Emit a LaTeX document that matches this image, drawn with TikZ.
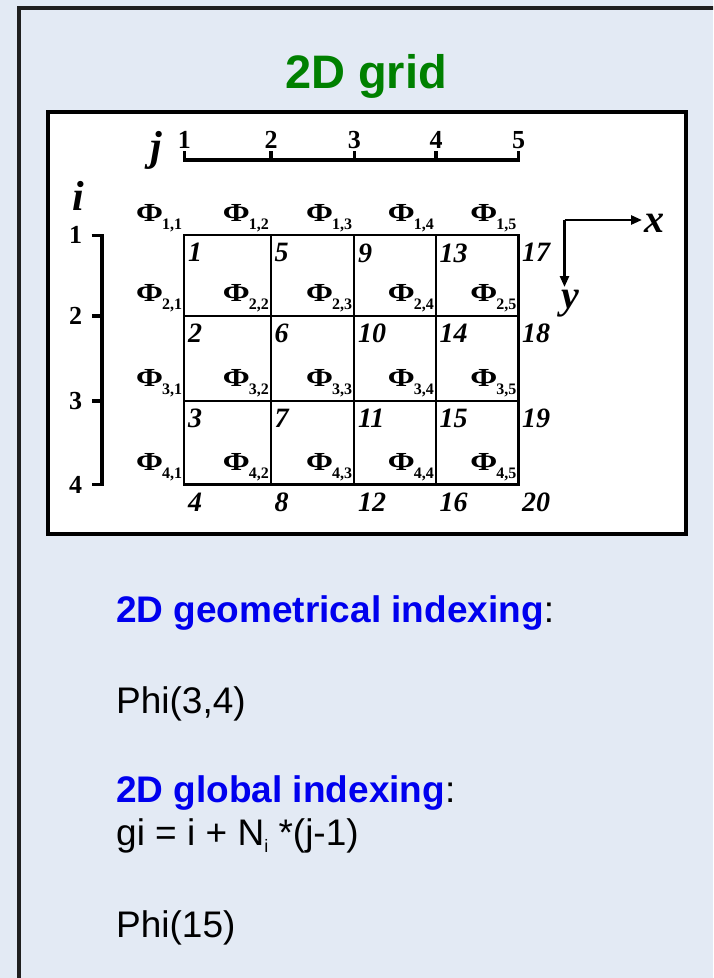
\documentclass[tikz,border=0pt]{standalone}
\usepackage{fontspec}
\usepackage{graphicx}
\setmainfont{Liberation Serif}
\newfontfamily\sansf{Liberation Sans}
\usetikzlibrary{arrows.meta}
\definecolor{bgcol}{RGB}{227,234,244}
\definecolor{ttlgreen}{RGB}{0,128,0}
\definecolor{hblue}{RGB}{0,0,238}
\newcommand\phisub[1]{{\bfseries\scalebox{1.25}[1]{Φ}}\kern-1pt\raisebox{-8pt}{\fontsize{16}{16}\selectfont\bfseries #1}}
\tikzset{
  gridln/.style={line width=2.2pt},
  axisln/.style={line width=3.5pt},
  numlbl/.style={font=\fontsize{28}{28}\selectfont\bfseries\itshape, inner sep=0pt},
  philbl/.style={font=\fontsize{26}{26}\selectfont, inner sep=0pt},
  ticklbl/.style={font=\fontsize{26}{26}\selectfont\bfseries, inner sep=0pt},
  axname/.style={font=\fontsize{42}{42}\selectfont\bfseries\itshape, inner sep=0pt},
  xyname/.style={font=\fontsize{40}{40}\selectfont\bfseries\itshape, inner sep=0pt},
  bodytxt/.style={font=\sansf\fontsize{37}{37}\selectfont, inner sep=0pt, anchor=base west},
  xyarrow/.style={line width=2.5pt, -{Triangle[length=11pt,width=9pt]}},
}
\begin{document}
\begin{tikzpicture}[x=1pt,y=-1pt]
\useasboundingbox (0,0) rectangle (713,978);
\clip (0,0) rectangle (713,978);
\fill[bgcol] (0,0) rectangle (713,978);
% outer frame (continues beyond the page)
\draw[line width=4pt, black!88] (19.3,1000) -- (19.3,8) -- (740,8);
% title
\node[font=\sansf\bfseries\fontsize{47}{47}\selectfont, text=ttlgreen, anchor=base, inner sep=0pt] (title) at (366,88) {2D grid};
% white picture box
\draw[line width=4pt, fill=white] (47.5,112) rectangle (685.5,533.5);
% grid points, cell numbers and Phi labels
\foreach \x [count=\j] in {184.3,271,354.3,436,518.5} {
  \foreach \y [count=\i] in {235.3,316,401,484.5} {
    \coordinate (p\i\j) at (\x,\y);
    \pgfmathtruncatemacro\n{(\j-1)*4+\i}
    \node[numlbl, anchor=north west] (n\n) at (\x+3.5,\y+8) {\n};
    \node[philbl, anchor=south east] (f\i\j) at (\x-2,\y-3.5) {\phisub{\i,\j}};
  }
}
\draw[gridln] (p11) rectangle (p45);
\foreach \j in {2,3,4} \draw[gridln] (p1\j) -- (p4\j);
\foreach \i in {2,3} \draw[gridln] (p\i1) -- (p\i5);
% j axis
\foreach \x [count=\j] in {184.3,271,354.3,436,518.5} {
  \coordinate (jt\j) at (\x,160);
  \coordinate (jh\j) at (\x,151);
  \node[ticklbl, anchor=base] (jl\j) at (\x,148) {\j};
}
\draw[axisln] (jh1) -- (jt1) -- (jt5) -- (jh5);
\foreach \j in {2,3,4} \draw[axisln] (jt\j) -- (jh\j);
\node[axname, anchor=base] (jname) at (156,160) {j};
% i axis
\foreach \y [count=\i] in {235.3,316,401,484.5} {
  \coordinate (it\i) at (102,\y);
  \coordinate (ih\i) at (91.5,\y);
  \node[ticklbl] (il\i) at (75.5,\y) {\i};
}
\draw[axisln] (ih1) -- (it1) -- (it4) -- (ih4);
\foreach \i in {2,3} \draw[axisln] (it\i) -- (ih\i);
\node[axname, anchor=base] (iname) at (78,210) {i};
% x-y axes
\coordinate (o) at (564.5,220);
\coordinate (xe) at (642,220);
\coordinate (ye) at (564.5,287);
\draw[xyarrow] (o) -- (xe);
\draw[xyarrow] (o) -- (ye);
\node[xyname, anchor=base west] (xname) at (644,232) {x};
\node[xyname, anchor=base] (yname) at (570,308) {y};
% texts below
\node[bodytxt] (t1) at (116,622) {\textcolor{hblue}{\bfseries 2D geometrical indexing}:};
\node[bodytxt] (t2) at (116,713) {Phi(3,4)};
\node[bodytxt] (t3) at (116,802) {\textcolor{hblue}{\bfseries 2D global indexing}:};
\node[bodytxt] (t4) at (116,845) {gi = i + N\raisebox{-7pt}{\fontsize{18}{18}\selectfont i} *(j-1)};
\node[bodytxt] (t5) at (116,937) {Phi(15)};
\end{tikzpicture}
\end{document}
